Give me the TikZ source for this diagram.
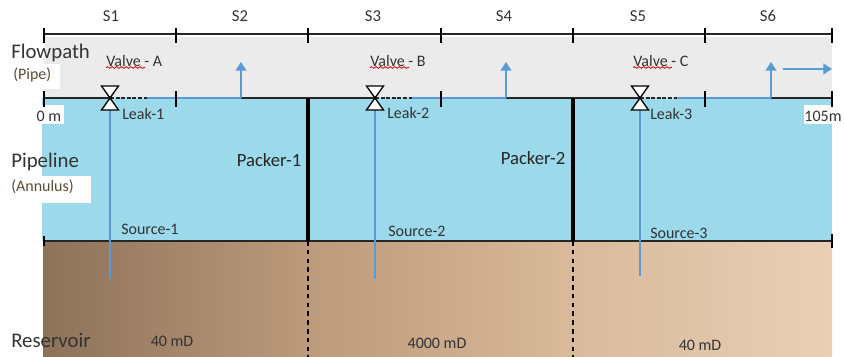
\documentclass[tikz,border=0pt]{standalone}
\usepackage{fontspec}
\setmainfont{Carlito}
\usetikzlibrary{arrows.meta,decorations.pathmorphing}
\definecolor{flowgray}{HTML}{EBEBEB}
\definecolor{annulus}{HTML}{9BD9EB}
\definecolor{wellblue}{HTML}{5B9BD5}
\definecolor{txt}{HTML}{333333}
\definecolor{brownA}{HTML}{8D725A}
\definecolor{brownB}{HTML}{BC9A7B}
\definecolor{brownC}{HTML}{D9BA9B}
\definecolor{brownD}{HTML}{E8CFB6}
\tikzset{
  lbl/.style={inner sep=0pt,text=txt,font=\fontsize{12.5pt}{14pt}\selectfont},
  small/.style={inner sep=0pt,text=txt,font=\fontsize{12pt}{14pt}\selectfont},
  big/.style={inner sep=0pt,text=txt,font=\fontsize{15.6pt}{18pt}\selectfont},
  packlbl/.style={inner sep=0pt,text=black!85,font=\fontsize{14pt}{16pt}\selectfont},
  sub/.style={inner sep=0pt,text=txt!70!brown,font=\fontsize{12pt}{14pt}\selectfont},
  rule/.style={draw=black!85,line width=1.5pt},
  tick/.style={draw=black,line width=1.5pt},
  packer/.style={draw=black,line width=3pt},
  flow/.style={draw=wellblue,line width=2.2pt},
  flowarrow/.style={flow,-{Triangle[length=6.5pt,width=8pt]}},
  valvetri/.style={draw=black,fill=white,line width=1pt},
  squiggle/.style={draw=red!85!black,line width=.6pt,decorate,decoration={snake,amplitude=.6pt,segment length=3.5pt}}
}
\newcommand{\valve}[1]{%
  \path[valvetri] (#1-8.5,86) -- (#1+8.5,86) -- (#1,98) -- cycle;
  \path[valvetri] (#1-8.5,110) -- (#1+8.5,110) -- (#1,98) -- cycle;
}
\begin{document}
\begin{tikzpicture}[x=0.75pt,y=-0.75pt]
\useasboundingbox (0,0) rectangle (844,357);
% bands
\fill[flowgray] (44,37) rectangle (832,98);
\fill[annulus] (42,98) rectangle (832,241);
\fill[left color=brownA,right color=brownB] (43,241) rectangle (308,357);
\fill[left color=brownB,right color=brownC] (308,241) rectangle (573,357);
\fill[left color=brownC,right color=brownD] (573,241) rectangle (832,357);
\fill[white] (0,64) rectangle (60,89);
\fill[white] (0,176) rectangle (91,203);
\fill[white] (36,105) rectangle (64,124);
\fill[white] (804,105) rectangle (844,124);
% coordinates
\foreach \n/\x in {a/44,b/176,c/308,d/441,e/573,f/705,g/832}{
  \coordinate (t\n) at (\x,34);
  \coordinate (m\n) at (\x,98);
  \coordinate (l\n) at (\x,241);
  \coordinate (r\n) at (\x,357);
}
% rules
\draw[rule] (ta) -- (tg);
\draw[rule] (ma) -- (mg);
\draw[rule] (la) -- (lg);
% packers
\draw[packer] (mc) -- (lc);
\draw[packer] (me) -- (le);
\draw[black,line width=1.1pt,dash pattern=on 3.4pt off 3.2pt] (lc) -- (rc);
\draw[black,line width=1.1pt,dash pattern=on 3.4pt off 3.2pt] (le) -- (re);
% wells and flow
\foreach \n/\vx/\bot/\ax in {1/110/279/241,2/375/279/506,3/640/276/771}{
  \coordinate (well\n) at (\vx,98);
  \coordinate (foot\n) at (\vx,\bot);
  \coordinate (riser\n) at (\ax,98);
  \coordinate (tip\n) at (\ax,62);
  \draw[flow] (well\n) -- (foot\n);
  \draw[flow] ([xshift=28pt]well\n) -- (riser\n);
  \draw[flowarrow] (riser\n) -- (tip\n);
  \draw[annulus!50!flowgray,line width=1.6pt] (well\n) -- ([xshift=28pt]well\n);
  \draw[black!85,line width=1.2pt,dash pattern=on 3pt off 1.2pt] (well\n) -- ([xshift=28pt]well\n);
}
\coordinate (outA) at (783,69);
\coordinate (outB) at (832,69);
\draw[flowarrow] (outA) -- (outB);
% ticks
\foreach \n in {a,b,c,d,e,f,g}{\draw[tick] ([yshift=4.5pt]t\n) -- ([yshift=-7pt]t\n);}
\foreach \n in {a,b,d,f,g}{\draw[tick] ([yshift=-6.5pt]m\n) -- ([yshift=5.5pt]m\n);}
\foreach \n in {c,e}{\draw[tick] ([yshift=-7pt]m\n) -- (m\n);}
\draw[tick] ([yshift=4pt]la) -- ([yshift=-4pt]la);
\draw[tick] ([yshift=5pt]lg) -- ([yshift=-5pt]lg);
\valve{110}
\valve{375}
\valve{640}
% labels
\node[lbl] (s1) at (111,16) {S1};
\node[lbl] (s2) at (240,16) {S2};
\node[lbl] (s3) at (373,16) {S3};
\node[lbl] (s4) at (504,16) {S4};
\node[lbl] (s5) at (638,16) {S5};
\node[lbl] (s6) at (768,16) {S6};
\node[big,anchor=west] (flowpath) at (11,53) {Flowpath};
\node[sub,anchor=west] (pipe) at (13,75) {(Pipe)};
\node[big,anchor=west] (pipeline) at (11,162) {Pipeline};
\node[sub,anchor=west] (ann) at (11,187) {(Annulus)};
\node[big,anchor=west] (res) at (11,340) {Reservoir};
\node[small] (zero) at (49,116) {0 m};
\node[small] (end) at (823,116) {105m};
\foreach \n/\x/\t in {va/106/A,vb/370/B,vc/633/C}{
  \node[small,anchor=west] (\n) at (\x,61) {Valve - \t};
  \draw[squiggle] (\x,67.5) -- (\x+39,67.5);
}
\node[small,anchor=west] (l1) at (122,114) {Leak-1};
\node[small,anchor=west] (l2) at (387,113) {Leak-2};
\node[small,anchor=west] (l3) at (650,114) {Leak-3};
\node[packlbl] (p1) at (269,160) {Packer-1};
\node[packlbl] (p2) at (533,158) {Packer-2};
\node[small,anchor=west] (src1) at (121,229) {Source-1};
\node[small,anchor=west] (src2) at (388,231) {Source-2};
\node[small,anchor=west] (src3) at (650,233) {Source-3};
\node[small] (md1) at (172,341) {40 mD};
\node[small] (md2) at (437,343) {4000 mD};
\node[small] (md3) at (700,345) {40 mD};
\end{tikzpicture}
\end{document}
